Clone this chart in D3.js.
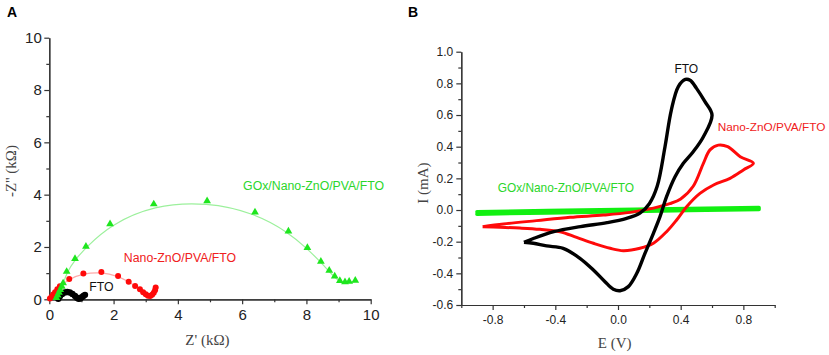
<html>
<head>
<meta charset="UTF-8">
<script src="https://d3js.org/d3.v7.min.js"></script>
<style>
  body { margin: 0; background: #fff; }
  .tick text { font-family: "Liberation Sans", Arial, sans-serif; fill: #222; }
  .axis path, .axis line { stroke: #333; stroke-width: 1.2px; }
  .serif { font-family: "Liberation Serif", "Times New Roman", serif; fill: #444; }
  .lab { font-family: "Liberation Sans", Arial, sans-serif; }
</style>
</head>
<body>
<svg id="chart" width="829" height="355"></svg>
<script>
// panel A: Nyquist plot (Z', -Z'') in kOhm
const ftoEis = [[0.28,0.02],[0.33,0.12],[0.40,0.20],[0.48,0.26],[0.56,0.28],[0.64,0.26],[0.72,0.20],
                [0.80,0.13],[0.86,0.06],[0.91,0.02],[0.96,0.03],[1.01,0.08],[1.06,0.13],[1.11,0.17]];
const znoEis = [[0.02,0.03],[0.07,0.10],[0.12,0.18],[0.18,0.27],[0.25,0.38],[0.33,0.50],[0.62,0.78],
                [1.06,0.99],[1.62,1.04],[2.14,0.89],[2.47,0.67],[2.67,0.51],[2.82,0.38],[2.92,0.27],
                [3.00,0.19],[3.07,0.14],[3.14,0.13],[3.20,0.17],[3.25,0.25],[3.29,0.35],[3.31,0.45]];
const goxEis = [[0.22,0.02],[0.26,0.12],[0.30,0.22],[0.34,0.33],[0.39,0.45],[0.43,0.58],[0.54,1.02],
                [0.80,1.51],[1.14,1.98],[1.89,2.84],[3.25,3.60],[4.91,3.72],[6.40,3.29],[7.44,2.56],
                [8.03,1.93],[8.45,1.41],[8.71,1.06],[8.88,0.84],[9.04,0.67],[9.20,0.62],[9.33,0.64],[9.52,0.68]];
const ticksA = [0, 2, 4, 6, 8, 10];

// panel B: cyclic voltammograms (E in V, I in mA)
const ftoCv = [[-0.60,-0.204],[-0.54,-0.18],[-0.41,-0.137],[-0.24,-0.105],[-0.07,-0.08],[0.055,-0.053],
               [0.14,-0.02],[0.20,0.04],[0.25,0.15],[0.30,0.40],[0.34,0.63],[0.385,0.78],[0.43,0.825],
               [0.46,0.82],[0.50,0.77],[0.555,0.684],[0.60,0.60],
               [0.545,0.463],[0.48,0.368],[0.417,0.295],[0.364,0.21],[0.31,0.084],[0.268,-0.042],
               [0.226,-0.147],[0.172,-0.274],[0.12,-0.40],[0.066,-0.484],[0.013,-0.51],[-0.03,-0.50],
               [-0.083,-0.453],[-0.157,-0.379],[-0.243,-0.305],[-0.35,-0.242],[-0.455,-0.227],
               [-0.54,-0.21],[-0.60,-0.204]];
const znoCv = [[-0.864,-0.105],[-0.73,-0.088],[-0.52,-0.067],[-0.306,-0.046],[-0.094,-0.032],
               [0.077,-0.015],[0.226,0.012],[0.33,0.04],[0.40,0.07],[0.48,0.15],[0.545,0.295],
               [0.587,0.38],[0.64,0.41],[0.70,0.40],[0.78,0.337],[0.864,0.295],
               [0.80,0.253],[0.715,0.20],[0.61,0.158],[0.523,0.105],[0.438,0.021],[0.374,-0.063],
               [0.31,-0.137],[0.226,-0.21],[0.14,-0.242],[0.034,-0.257],[-0.05,-0.242],[-0.157,-0.21],
               [-0.264,-0.173],[-0.37,-0.137],[-0.498,-0.122],[-0.626,-0.114],[-0.753,-0.109],[-0.864,-0.105]];
const goxCv = [[-0.90,-0.012],[-0.45,-0.004],[0.0,0.003],[0.45,0.009],[0.90,0.015],
               [0.90,0.004],[0.45,-0.003],[0.0,-0.010],[-0.45,-0.018],[-0.90,-0.026]];
const ticksBx = [-0.8, -0.4, 0.0, 0.4, 0.8];
const ticksBy = [-0.6, -0.4, -0.2, 0.0, 0.2, 0.4, 0.6, 0.8, 1.0];

const green = '#1ee61e', red = '#ff0a0a', black = '#000';
const fmt1 = d => Math.abs(d) < 1e-9 ? '0.0' : d.toFixed(1);

const svg = d3.select('#chart');

// ---------- panel A ----------
const xA = d3.scaleLinear().domain([0, 10]).range([49.3, 370.7]);
const yA = d3.scaleLinear().domain([0, 10]).range([299.3, 37.7]);

const gA = svg.append('g');
gA.append('g').attr('class', 'axis').attr('transform', 'translate(0,299.3)')
  .call(d3.axisBottom(xA).tickValues(d3.range(1, 10, 2)).tickSize(3).tickSizeOuter(0).tickFormat(''));
gA.append('g').attr('class', 'axis').attr('transform', 'translate(0,299.3)')
  .call(d3.axisBottom(xA).tickValues(ticksA).tickSize(5).tickSizeOuter(0).tickPadding(5).tickFormat(d3.format('d')))
  .selectAll('text').style('font-size', '15px');
gA.append('g').attr('class', 'axis').attr('transform', 'translate(49.3,0)')
  .call(d3.axisLeft(yA).tickValues(d3.range(1, 10, 2)).tickSize(3).tickSizeOuter(0).tickFormat(''));
gA.append('g').attr('class', 'axis').attr('transform', 'translate(49.3,0)')
  .call(d3.axisLeft(yA).tickValues(ticksA).tickSize(5).tickSizeOuter(0).tickPadding(2.5).tickFormat(d3.format('d')))
  .selectAll('text').style('font-size', '15px');

// smooth fit curves under the measured points
const lineA = d3.line().x(d => xA(d[0])).y(d => yA(d[1])).curve(d3.curveBasis);
gA.append('path').attr('d', lineA(goxEis)).attr('fill', 'none').attr('stroke', '#9cf09c').attr('stroke-width', 1.2);
gA.append('path').attr('d', lineA(znoEis)).attr('fill', 'none').attr('stroke', '#ffa8a8').attr('stroke-width', 1.2);

gA.selectAll('circle.fto').data(ftoEis).join('circle').attr('class', 'fto')
  .attr('cx', d => xA(d[0])).attr('cy', d => yA(d[1])).attr('r', 3.2).attr('fill', black);
gA.selectAll('circle.zno').data(znoEis).join('circle').attr('class', 'zno')
  .attr('cx', d => xA(d[0])).attr('cy', d => yA(d[1])).attr('r', 3).attr('fill', red);
gA.selectAll('path.gox').data(goxEis).join('path').attr('class', 'gox')
  .attr('transform', d => `translate(${xA(d[0])},${yA(d[1]) - 1})`)
  .attr('d', d3.symbol(d3.symbolTriangle, 26)).attr('fill', green);

gA.append('text').attr('class', 'lab').attr('x', xA(6.03)).attr('y', yA(4.34)).attr('dy', '0.35em')
  .style('font-size', '12.3px').attr('fill', '#2bd62b').text('GOx/Nano-ZnO/PVA/FTO');
gA.append('text').attr('class', 'lab').attr('x', xA(2.32)).attr('y', yA(1.58)).attr('dy', '0.35em')
  .style('font-size', '12.3px').attr('fill', '#f02020').text('Nano-ZnO/PVA/FTO');
gA.append('text').attr('class', 'lab').attr('x', xA(1.24)).attr('y', yA(0.47)).attr('dy', '0.35em')
  .style('font-size', '12.3px').attr('fill', '#111').text('FTO');

gA.append('text').attr('class', 'serif').attr('x', 207.5).attr('y', 345).attr('text-anchor', 'middle')
  .style('font-size', '15px').text("Z' (k\u03A9)");
gA.append('text').attr('class', 'serif').attr('transform', 'translate(16,171) rotate(-90)').attr('text-anchor', 'middle')
  .style('font-size', '15px').text("-Z'' (k\u03A9)");
gA.append('text').attr('x', 7).attr('y', 17).style('font-family', 'Liberation Sans, Arial, sans-serif')
  .style('font-weight', 'bold').style('font-size', '14px').text('A');

// ---------- panel B ----------
const xB = d3.scaleLinear().domain([-1, 1]).range([461.3, 774.7]);
const yB = d3.scaleLinear().domain([-0.6, 1.0]).range([305, 51.7]);

const gB = svg.append('g');
gB.append('g').attr('class', 'axis').attr('transform', 'translate(0,305)')
  .call(d3.axisBottom(xB).tickValues([-1, -0.6, -0.2, 0.2, 0.6, 1]).tickSize(3).tickSizeOuter(0).tickFormat(''));
gB.append('g').attr('class', 'axis').attr('transform', 'translate(0,305)')
  .call(d3.axisBottom(xB).tickValues(ticksBx).tickSize(5).tickSizeOuter(0).tickPadding(5).tickFormat(fmt1))
  .selectAll('text').style('font-size', '12px');
gB.append('g').attr('class', 'axis').attr('transform', 'translate(461.3,0)')
  .call(d3.axisLeft(yB).tickValues(d3.range(-0.5, 1.0, 0.2)).tickSize(3).tickSizeOuter(0).tickFormat(''));
gB.append('g').attr('class', 'axis').attr('transform', 'translate(461.3,0)')
  .call(d3.axisLeft(yB).tickValues(ticksBy).tickSize(5).tickSizeOuter(0).tickPadding(3).tickFormat(fmt1))
  .selectAll('text').style('font-size', '12px');

const lineB = d3.line().x(d => xB(d[0])).y(d => yB(d[1])).curve(d3.curveCatmullRom);
const lineG = d3.line().x(d => xB(d[0])).y(d => yB(d[1]));
gB.append('path').attr('d', lineG(goxCv)).attr('fill', 'none').attr('stroke', '#11f011')
  .attr('stroke-width', 3.6).attr('stroke-linejoin', 'round').attr('stroke-linecap', 'round');
gB.append('path').attr('d', lineB(znoCv)).attr('fill', 'none').attr('stroke', red)
  .attr('stroke-width', 3).attr('stroke-linejoin', 'round');
gB.append('path').attr('d', lineB(ftoCv)).attr('fill', 'none').attr('stroke', black)
  .attr('stroke-width', 3.4).attr('stroke-linejoin', 'round');

gB.append('text').attr('class', 'lab').attr('x', xB(0.36)).attr('y', yB(0.895)).attr('dy', '0.35em')
  .style('font-size', '12px').attr('fill', '#111').text('FTO');
gB.append('text').attr('class', 'lab').attr('x', xB(0.636)).attr('y', yB(0.526)).attr('dy', '0.35em')
  .style('font-size', '11.8px').attr('fill', '#f02020').text('Nano-ZnO/PVA/FTO');
gB.append('text').attr('class', 'lab').attr('x', xB(-0.768)).attr('y', yB(0.143)).attr('dy', '0.35em')
  .style('font-size', '11.9px').attr('fill', '#2bd62b').text('GOx/Nano-ZnO/PVA/FTO');

gB.append('text').attr('class', 'serif').attr('x', 614.7).attr('y', 348).attr('text-anchor', 'middle')
  .style('font-size', '15px').text('E (V)');
gB.append('text').attr('class', 'serif').attr('transform', 'translate(428,183) rotate(-90)').attr('text-anchor', 'middle')
  .style('font-size', '15px').text('I (mA)');
gB.append('text').attr('x', 408).attr('y', 17).style('font-family', 'Liberation Sans, Arial, sans-serif')
  .style('font-weight', 'bold').style('font-size', '14px').text('B');
</script>
</body>
</html>
